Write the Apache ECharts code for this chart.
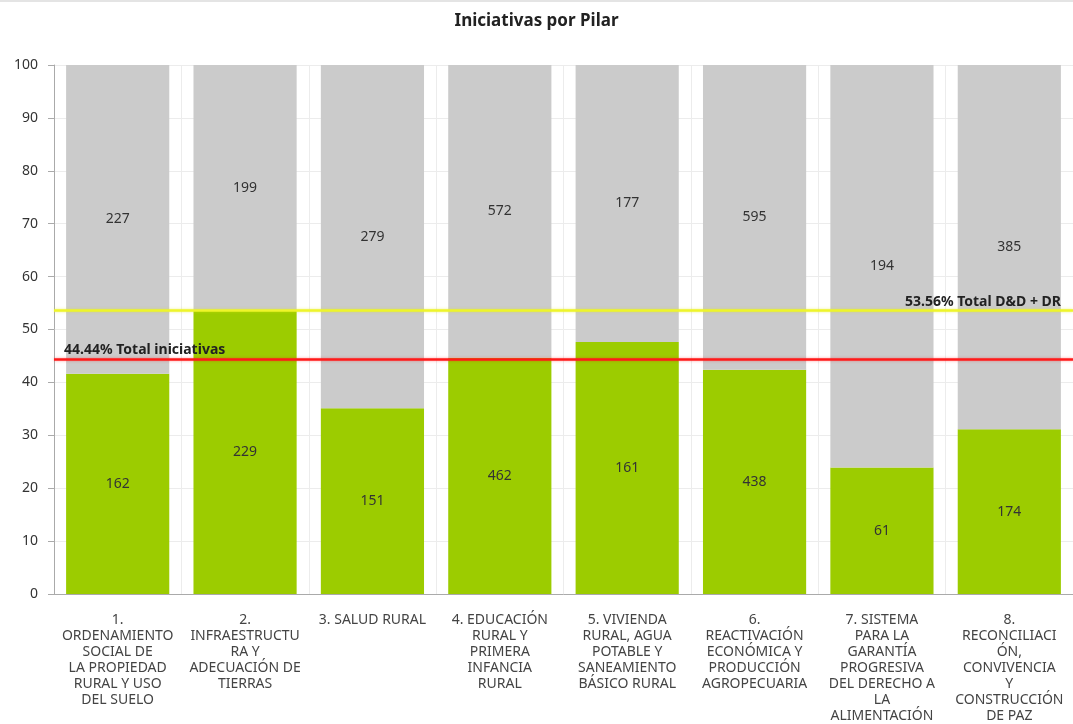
<!DOCTYPE html>
<html>
<head>
<meta charset="utf-8">
<script src="https://cdn.jsdelivr.net/npm/echarts@6/dist/echarts.min.js"></script>
<style>
  html, body { margin: 0; padding: 0; background: #fff; }
  #chart { width: 1073px; height: 724px; border-top: 2px solid #e4e4e4; box-sizing: border-box; }
</style>
</head>
<body>
<div id="chart"></div>
<script>
// pilares (texto tal cual aparece, con sus saltos de línea)
var categories = [
  "1.\nORDENAMIENTO\nSOCIAL DE\nLA PROPIEDAD\nRURAL Y USO\nDEL SUELO",
  "2.\nINFRAESTRUCTU\nRA Y\nADECUACIÓN DE\nTIERRAS",
  "3. SALUD RURAL",
  "4. EDUCACIÓN\nRURAL Y\nPRIMERA\nINFANCIA\nRURAL",
  "5. VIVIENDA\nRURAL, AGUA\nPOTABLE Y\nSANEAMIENTO\nBÁSICO RURAL",
  "6.\nREACTIVACIÓN\nECONÓMICA Y\nPRODUCCIÓN\nAGROPECUARIA",
  "7. SISTEMA\nPARA LA\nGARANTÍA\nPROGRESIVA\nDEL DERECHO A\nLA\nALIMENTACIÓN",
  "8.\nRECONCILIACI\nÓN,\nCONVIVENCIA\nY\nCONSTRUCCIÓN\nDE PAZ"
];
// conteos de iniciativas
var greenCounts = [162, 229, 151, 462, 161, 438, 61, 174];
var greyCounts = [227, 199, 279, 572, 177, 595, 194, 385];
// líneas de referencia
var totalIniciativas = 44.44;
var totalDD = 53.56;

// porcentajes para apilar al 100%
function pct(part, i) {
  return (part / (greenCounts[i] + greyCounts[i])) * 100;
}
var greenData = greenCounts.map(function (v, i) {
  return { value: pct(v, i), count: v };
});
var greyData = greyCounts.map(function (v, i) {
  return { value: pct(v, i), count: v };
});

var FONT = "Noto Sans";
var chart = echarts.init(document.getElementById("chart"));
chart.setOption({
  animation: false,
  textStyle: { fontFamily: FONT },
  title: {
    text: "Iniciativas por Pilar",
    left: "center",
    top: 6,
    textStyle: { fontSize: 17, fontWeight: "bold", color: "#222", fontFamily: FONT }
  },
  grid: { left: 54, right: -5, top: 63, bottom: 122 },
  xAxis: {
    type: "category",
    data: categories,
    axisLine: { lineStyle: { color: "#aaa" } },
    axisTick: { alignWithLabel: true, lineStyle: { color: "#aaa" }, length: 5 },
    splitLine: { show: true, lineStyle: { color: "#ececec" } },
    axisLabel: {
      interval: 0,
      color: "#444",
      fontSize: 14,
      lineHeight: 16,
      margin: 18,
      fontFamily: FONT
    }
  },
  yAxis: {
    type: "value",
    min: 0,
    max: 100,
    interval: 10,
    axisLine: { show: true, lineStyle: { color: "#aaa" } },
    axisTick: { show: true, length: 6, lineStyle: { color: "#aaa" } },
    splitLine: { lineStyle: { color: "#ececec" } },
    axisLabel: { color: "#333", fontSize: 14, margin: 16, fontFamily: FONT }
  },
  series: [
    {
      name: "D&D + DR",
      type: "bar",
      stack: "total",
      barWidth: "81%",
      itemStyle: { color: "#9ccc00" },
      label: {
        show: true,
        position: "inside",
        color: "#333",
        fontSize: 14,
        fontFamily: FONT,
        formatter: function (p) { return p.data.count; }
      },
      data: greenData,
      markLine: {
        silent: true,
        symbol: "none",
        data: [
          {
            yAxis: totalIniciativas,
            lineStyle: { color: "#ff1a1a", width: 2.5, type: "solid", shadowColor: "rgba(255,0,0,0.4)", shadowBlur: 3 },
            label: {
              position: "insideStartTop",
              formatter: totalIniciativas.toFixed(2) + "% Total iniciativas",
              color: "#222",
              fontWeight: "bold",
              fontSize: 14,
              fontFamily: FONT,
              distance: [10, 2]
            }
          },
          {
            yAxis: totalDD,
            lineStyle: { color: "#eef52a", width: 2.5, type: "solid", shadowColor: "rgba(220,230,0,0.5)", shadowBlur: 3 },
            label: {
              position: "insideEndTop",
              formatter: totalDD.toFixed(2) + "% Total D&D + DR",
              color: "#222",
              fontWeight: "bold",
              fontSize: 14,
              fontFamily: FONT,
              distance: [12, 2]
            }
          }
        ]
      }
    },
    {
      name: "Resto",
      type: "bar",
      stack: "total",
      barWidth: "81%",
      itemStyle: { color: "#cbcbcb" },
      label: {
        show: true,
        position: "inside",
        color: "#333",
        fontSize: 14,
        fontFamily: FONT,
        formatter: function (p) { return p.data.count; }
      },
      data: greyData
    }
  ]
});
</script>
</body>
</html>
